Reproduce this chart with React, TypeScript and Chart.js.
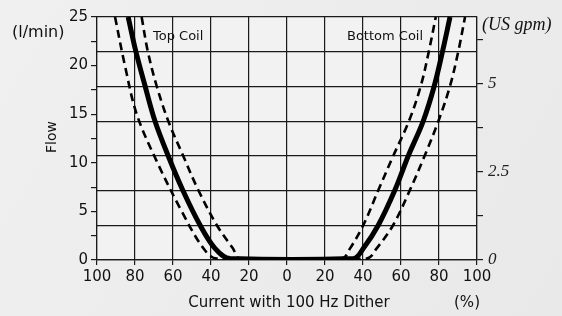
import React, { useEffect, useRef } from "react";
import { Chart, registerables } from "chart.js";

Chart.register(...registerables);

// Current (%) : negative = Top Coil, positive = Bottom Coil
const solidCurrent = [-83.6, -79.6, -74.7, -69.5, -62.5, -54.9, -45.8, -37.9, -30, 35, 40.2, 48.1, 56.8, 63.8, 71.7, 77.5, 81.9, 85.8];
const solidFlow = [25, 21.5, 17.9, 14.3, 10.7, 7.2, 3.6, 1.2, 0.15, 0.15, 1.2, 3.6, 7.2, 10.7, 14.3, 17.9, 21.5, 25];

const outerCurrent = [-90.5, -85.3, -79.1, -68.9, -55.4, -44, -37, 42, 47.2, 55.9, 64.7, 72.4, 79.7, 85.8, 90.2, 93.7];
const outerFlow = [25, 20, 15, 10.3, 5, 1.2, 0.15, 0.15, 1.2, 3.6, 7.2, 10.7, 14.3, 17.9, 21.5, 25];

const innerCurrent = [-76.5, -73.3, -68.6, -62.5, -54.6, -46.7, -37, -28.5, -24.7, 28.8, 33.2, 40.2, 48.1, 55.9, 64.2, 70.4, 74.7, 78.3];
const innerFlow = [25, 21.5, 17.9, 14.3, 10.7, 7.2, 3.6, 1.2, 0.15, 0.15, 1.2, 3.6, 7.2, 10.7, 14.3, 17.9, 21.5, 25];

const flowMax = 25; // l/min
const gpmMax = 6.89; // right axis top (US gpm)
const gpmLabelled = [0, 2.5, 5];
const gridDivisions = 7;

const SANS = "'DejaVu Sans', Verdana, sans-serif";
const SERIF = "'Liberation Serif', 'Times New Roman', serif";
const INK = "#1a1a1a";

const pts = (xs: number[], ys: number[]) => xs.map((x, i) => ({ x, y: ys[i] }));

const decorPlugin = {
  id: "decor",
  beforeDraw(chart: any) {
    const { ctx, width, height, chartArea } = chart;
    ctx.save();
    const g = ctx.createLinearGradient(0, 0, width, height);
    g.addColorStop(0, "#f0f0f0");
    g.addColorStop(0.5, "#ececec");
    g.addColorStop(1, "#e9e9e9");
    ctx.fillStyle = g;
    ctx.fillRect(0, 0, width, height);
    ctx.fillStyle = "#f2f2f2";
    ctx.fillRect(chartArea.left, chartArea.top, chartArea.right - chartArea.left, chartArea.bottom - chartArea.top);
    ctx.restore();
  },
  afterDraw(chart: any) {
    const { ctx, chartArea } = chart;
    ctx.save();
    ctx.fillStyle = "#111";
    ctx.textBaseline = "middle";
    ctx.font = `16px ${SANS}`;
    ctx.textAlign = "left";
    ctx.fillText("(l/min)", 12, chartArea.top + 16);
    ctx.font = `15px ${SANS}`;
    ctx.textAlign = "center";
    ctx.fillText("Current with 100 Hz Dither", (chartArea.left + chartArea.right) / 2 + 2, 303);
    ctx.fillText("(%)", chartArea.right - 10, 303);
    ctx.save();
    ctx.translate(52, 137);
    ctx.rotate(-Math.PI / 2);
    ctx.font = `14px ${SANS}`;
    ctx.fillText("Flow", 0, 0);
    ctx.restore();
    ctx.font = `13px ${SANS}`;
    ctx.textAlign = "left";
    ctx.fillText("Top Coil", 153, 37);
    ctx.fillText("Bottom Coil", 347, 37);
    ctx.font = `italic 18px ${SERIF}`;
    ctx.fillText("(US gpm)", chartArea.right + 5, 25);
    ctx.restore();
  },
};

const lineStyle = { showLine: true, borderColor: "#000", pointRadius: 0, tension: 0.35, yAxisID: "y" };

export default function App() {
  const ref = useRef<HTMLCanvasElement | null>(null);
  useEffect(() => {
    if (!ref.current) return;
    const chart = new Chart(ref.current, {
      type: "scatter",
      data: {
        datasets: [
          { ...lineStyle, data: pts(outerCurrent, outerFlow), borderWidth: 2.6, borderDash: [8, 5] },
          { ...lineStyle, data: pts(innerCurrent, innerFlow), borderWidth: 2.6, borderDash: [8, 5] },
          { ...lineStyle, data: pts(solidCurrent, solidFlow), borderWidth: 5 },
        ],
      },
      options: {
        responsive: false,
        animation: false,
        layout: { padding: { top: 17, left: 0, right: 0, bottom: 0 } },
        plugins: { legend: { display: false }, tooltip: { enabled: false } },
        scales: {
          x: {
            type: "linear",
            min: -100,
            max: 100,
            ticks: {
              stepSize: 20,
              color: "#111",
              font: { family: SANS, size: 15 },
              padding: 3,
              maxRotation: 0,
              callback: (v: any) => String(Math.abs(Number(v))),
            },
            grid: { color: INK, lineWidth: 1.2, tickLength: 5 },
            border: { color: INK, width: 1.2 },
            afterFit: (s: any) => {
              s.height = 56;
            },
          },
          y: {
            type: "linear",
            position: "left",
            min: 0,
            max: flowMax,
            ticks: {
              stepSize: 2.5,
              color: "#111",
              font: { family: SANS, size: 15 },
              padding: 3,
              callback: (v: any) => (Number(v) % 5 === 0 ? String(v) : ""),
            },
            grid: { drawOnChartArea: false, color: INK, lineWidth: 1.2, tickLength: 6 },
            border: { color: INK, width: 1.2 },
            afterFit: (s: any) => {
              s.width = 97;
            },
          },
          gpm: {
            type: "linear",
            position: "right",
            min: 0,
            max: gpmMax,
            ticks: {
              stepSize: 1.25,
              includeBounds: false,
              color: "#222",
              font: { family: SERIF, size: 17, style: "italic" },
              padding: 5,
              callback: (v: any) => (gpmLabelled.includes(Number(v)) ? String(v) : ""),
            },
            grid: { drawOnChartArea: false, color: INK, lineWidth: 1.2, tickLength: 6 },
            border: { color: INK, width: 1.2 },
            afterFit: (s: any) => {
              s.width = 85;
            },
          },
          grid7: {
            type: "linear",
            position: "right",
            min: 0,
            max: gridDivisions,
            ticks: { stepSize: 1, display: false },
            grid: { color: INK, lineWidth: 1.2, drawTicks: false },
            border: { display: false },
            afterFit: (s: any) => {
              s.width = 0;
            },
          },
        },
      } as any,
      plugins: [decorPlugin],
    });
    return () => chart.destroy();
  }, []);
  return (
    <div style={{ position: "fixed", left: 0, top: 0, width: 562, height: 316, background: "#ececec" }}>
      <canvas ref={ref} width={562} height={316} style={{ display: "block" }} />
    </div>
  );
}
